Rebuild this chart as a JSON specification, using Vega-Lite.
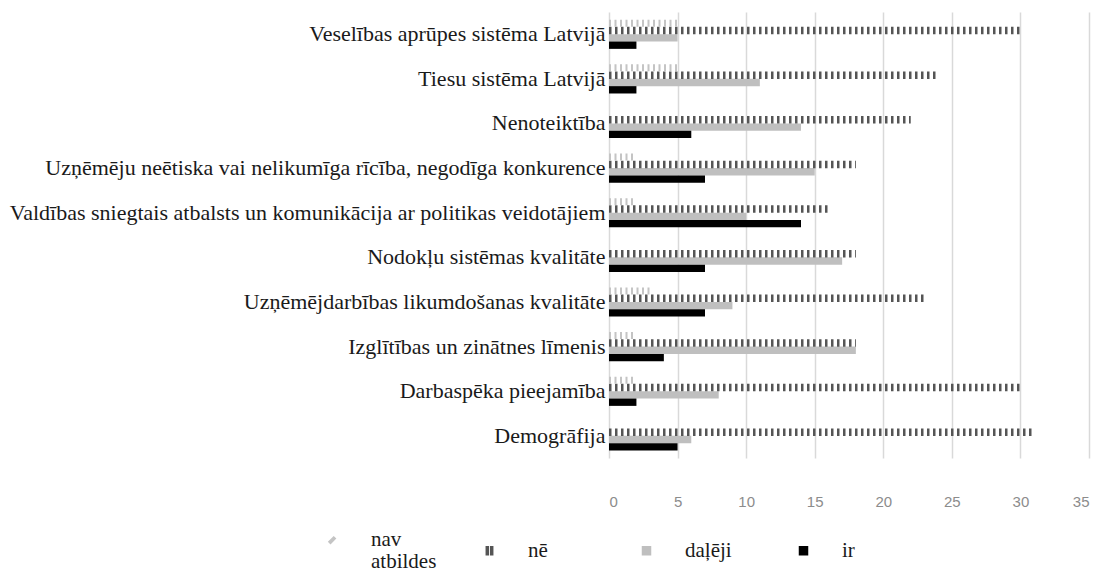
{
  "$schema": "https://vega.github.io/schema/vega-lite/v6.json",
  "width": 480,
  "height": 446,
  "autosize": {"type": "none"},
  "padding": {"left": 609, "top": 12, "right": 30, "bottom": 114},
  "background": "#ffffff",
  "config": {"view": {"stroke": null}, "font": "Liberation Serif"},
  "data": {
    "values": [
      {"cat": "Veselības aprūpes sistēma Latvijā", "series": "nav atbildes", "value": 5},
      {"cat": "Veselības aprūpes sistēma Latvijā", "series": "nē", "value": 30},
      {"cat": "Veselības aprūpes sistēma Latvijā", "series": "daļēji", "value": 5},
      {"cat": "Veselības aprūpes sistēma Latvijā", "series": "ir", "value": 2},
      {"cat": "Tiesu sistēma Latvijā", "series": "nav atbildes", "value": 5},
      {"cat": "Tiesu sistēma Latvijā", "series": "nē", "value": 24},
      {"cat": "Tiesu sistēma Latvijā", "series": "daļēji", "value": 11},
      {"cat": "Tiesu sistēma Latvijā", "series": "ir", "value": 2},
      {"cat": "Nenoteiktība", "series": "nav atbildes", "value": 0},
      {"cat": "Nenoteiktība", "series": "nē", "value": 22},
      {"cat": "Nenoteiktība", "series": "daļēji", "value": 14},
      {"cat": "Nenoteiktība", "series": "ir", "value": 6},
      {"cat": "Uzņēmēju neētiska vai nelikumīga rīcība, negodīga konkurence", "series": "nav atbildes", "value": 2},
      {"cat": "Uzņēmēju neētiska vai nelikumīga rīcība, negodīga konkurence", "series": "nē", "value": 18},
      {"cat": "Uzņēmēju neētiska vai nelikumīga rīcība, negodīga konkurence", "series": "daļēji", "value": 15},
      {"cat": "Uzņēmēju neētiska vai nelikumīga rīcība, negodīga konkurence", "series": "ir", "value": 7},
      {"cat": "Valdības sniegtais atbalsts un komunikācija ar politikas veidotājiem", "series": "nav atbildes", "value": 2},
      {"cat": "Valdības sniegtais atbalsts un komunikācija ar politikas veidotājiem", "series": "nē", "value": 16},
      {"cat": "Valdības sniegtais atbalsts un komunikācija ar politikas veidotājiem", "series": "daļēji", "value": 10},
      {"cat": "Valdības sniegtais atbalsts un komunikācija ar politikas veidotājiem", "series": "ir", "value": 14},
      {"cat": "Nodokļu sistēmas kvalitāte", "series": "nav atbildes", "value": 0},
      {"cat": "Nodokļu sistēmas kvalitāte", "series": "nē", "value": 18},
      {"cat": "Nodokļu sistēmas kvalitāte", "series": "daļēji", "value": 17},
      {"cat": "Nodokļu sistēmas kvalitāte", "series": "ir", "value": 7},
      {"cat": "Uzņēmējdarbības likumdošanas kvalitāte", "series": "nav atbildes", "value": 3},
      {"cat": "Uzņēmējdarbības likumdošanas kvalitāte", "series": "nē", "value": 23},
      {"cat": "Uzņēmējdarbības likumdošanas kvalitāte", "series": "daļēji", "value": 9},
      {"cat": "Uzņēmējdarbības likumdošanas kvalitāte", "series": "ir", "value": 7},
      {"cat": "Izglītības un zinātnes līmenis", "series": "nav atbildes", "value": 2},
      {"cat": "Izglītības un zinātnes līmenis", "series": "nē", "value": 18},
      {"cat": "Izglītības un zinātnes līmenis", "series": "daļēji", "value": 18},
      {"cat": "Izglītības un zinātnes līmenis", "series": "ir", "value": 4},
      {"cat": "Darbaspēka pieejamība", "series": "nav atbildes", "value": 2},
      {"cat": "Darbaspēka pieejamība", "series": "nē", "value": 30},
      {"cat": "Darbaspēka pieejamība", "series": "daļēji", "value": 8},
      {"cat": "Darbaspēka pieejamība", "series": "ir", "value": 2},
      {"cat": "Demogrāfija", "series": "nav atbildes", "value": 0},
      {"cat": "Demogrāfija", "series": "nē", "value": 31},
      {"cat": "Demogrāfija", "series": "daļēji", "value": 6},
      {"cat": "Demogrāfija", "series": "ir", "value": 5}
    ]
  },
  "encoding": {
    "y": {
      "field": "cat",
      "type": "nominal",
      "scale": {
        "domain": [
          "Veselības aprūpes sistēma Latvijā",
          "Tiesu sistēma Latvijā",
          "Nenoteiktība",
          "Uzņēmēju neētiska vai nelikumīga rīcība, negodīga konkurence",
          "Valdības sniegtais atbalsts un komunikācija ar politikas veidotājiem",
          "Nodokļu sistēmas kvalitāte",
          "Uzņēmējdarbības likumdošanas kvalitāte",
          "Izglītības un zinātnes līmenis",
          "Darbaspēka pieejamība",
          "Demogrāfija"
        ],
        "paddingInner": 0.342,
        "paddingOuter": 0.168
      },
      "axis": {
        "title": null,
        "domain": false,
        "ticks": false,
        "grid": false,
        "labelPadding": 4,
        "labelFont": "Liberation Serif",
        "labelFontSize": 22,
        "labelColor": "#1a1a1a",
        "labelLimit": 0
      }
    },
    "yOffset": {
      "field": "series",
      "type": "nominal",
      "scale": {"domain": ["nav atbildes", "nē", "daļēji", "ir"], "paddingInner": 0, "paddingOuter": 0}
    },
    "x": {
      "field": "value",
      "type": "quantitative",
      "scale": {"domain": [0, 35], "nice": false},
      "axis": {
        "title": null,
        "values": [0, 5, 10, 15, 20, 25, 30, 35],
        "domain": false,
        "ticks": false,
        "grid": true,
        "gridColor": "#d9d9d9",
        "gridWidth": 1.5,
        "labelPadding": 36,
        "labelFont": "Liberation Sans",
        "labelFontSize": 15,
        "labelColor": "#8c8c8c"
      }
    },
    "color": {
      "field": "series",
      "type": "nominal",
      "scale": {
        "domain": ["nav atbildes", "nē", "daļēji", "ir"],
        "range": ["#c4c4c4", "#555555", "#bfbfbf", "#000000"]
      },
      "legend": {
        "orient": "none",
        "legendX": -287,
        "legendY": 517,
        "title": null,
        "direction": "horizontal",
        "columns": 4,
        "gridAlign": "all",
        "columnPadding": 42,
        "labelOffset": 28,
        "symbolSize": 64,
        "symbolType": "square",
        "labelFont": "Liberation Serif",
        "labelFontSize": 21,
        "labelColor": "#1a1a1a",
        "labelLimit": 0,
        "labelExpr": "datum.label === 'nav atbildes' ? ['nav', 'atbildes'] : datum.label",
        "encode": {
          "labels": {
            "update": {
              "lineHeight": {"value": 22}
            }
          },
          "symbols": {
            "update": {
              "shape": {"signal": "datum.value === 'nē' ? 'M-0.8,-1H-0.3V1H-0.8ZM0.3,-1H0.8V1H0.3Z' : datum.value === 'nav atbildes' ? 'M-0.9,0.5L0.3,-0.7L0.7,-0.3L-0.5,0.9Z' : 'square'"},
              "fill": {"scale": "color", "field": "value"},
              "stroke": {"value": "transparent"},
              "opacity": {"value": 1}
            }
          }
        }
      }
    }
  },
  "layer": [
    {
      "transform": [{"filter": "datum.series === 'daļēji' || datum.series === 'ir'"}],
      "mark": {"type": "bar"}
    },
    {
      "transform": [{"filter": "datum.series === 'nē'"}],
      "mark": {"type": "rule", "strokeWidth": 7.5, "strokeDash": [2.5, 3.5]},
      "encoding": {"x": {"datum": 0, "type": "quantitative"}, "x2": {"field": "value"}}
    },
    {
      "transform": [{"filter": "datum.series === 'nav atbildes' && datum.value > 0"}],
      "mark": {"type": "rule", "strokeWidth": 7, "strokeDash": [2, 3.5]},
      "encoding": {"x": {"datum": 0, "type": "quantitative"}, "x2": {"field": "value"}}
    }
  ]
}
